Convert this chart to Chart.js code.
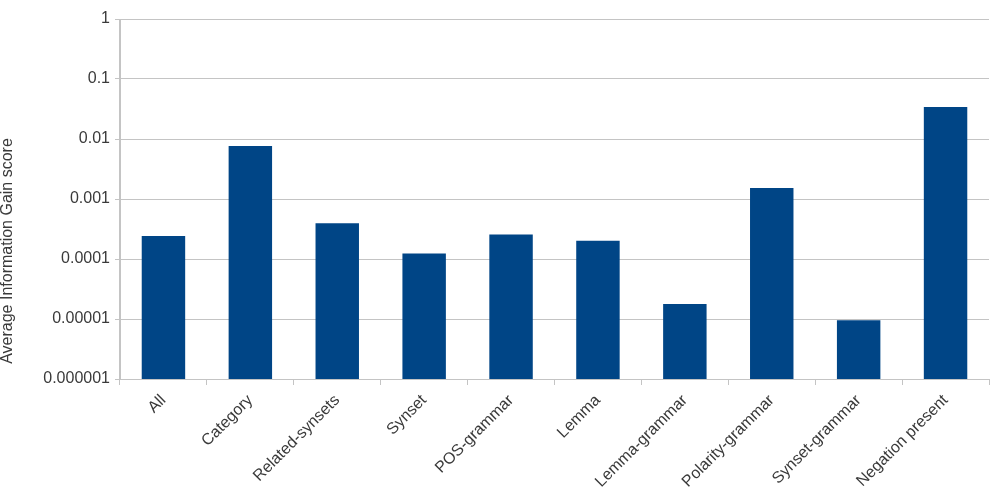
<!DOCTYPE html>
<html>
<head>
<meta charset="utf-8">
<script src="https://cdn.jsdelivr.net/npm/chart.js@4"></script>
<style>
  body { margin: 0; background: #fff; }
  #wrap { width: 1002px; height: 494px; }
</style>
</head>
<body>
<div id="wrap"><canvas id="myChart" width="1002" height="494"></canvas></div>
<script>
// dati
var categories = ["All", "Category", "Related-synsets", "Synset", "POS-grammar",
  "Lemma", "Lemma-grammar", "Polarity-grammar", "Synset-grammar", "Negation present"];
var gainScores = [0.000241, 0.00762, 0.000393, 0.000124, 0.000255,
  0.000202, 0.0000178, 0.00152, 0.0000095, 0.0341];
var yTicks = [1, 0.1, 0.01, 0.001, 0.0001, 0.00001, 0.000001];
var yTickLabels = ["1", "0.1", "0.01", "0.001", "0.0001", "0.00001", "0.000001"];
var yTitle = "Average Information Gain score";

var FONT = "'Liberation Sans', Arial, sans-serif";
var GRID = "#c4c4c4";
var TEXT = "#3a3a3a";

// titolo asse Y disegnato a mano (centrato come nell'originale)
var yTitlePlugin = {
  id: "yTitle",
  afterDraw: function(chart) {
    var ctx = chart.ctx;
    ctx.save();
    ctx.translate(8, 251);
    ctx.rotate(-Math.PI / 2);
    ctx.font = "16px " + FONT;
    ctx.fillStyle = TEXT;
    ctx.textAlign = "center";
    ctx.textBaseline = "middle";
    ctx.fillText(yTitle, 0, 0);
    ctx.restore();
  }
};

var ctx = document.getElementById("myChart").getContext("2d");
var myChart = new Chart(ctx, {
  type: "bar",
  data: {
    labels: categories,
    datasets: [{
      label: yTitle,
      data: gainScores,
      backgroundColor: "#004586",
      borderWidth: 0,
      barPercentage: 0.5,
      categoryPercentage: 1.0
    }]
  },
  options: {
    responsive: false,
    animation: false,
    layout: { padding: { top: 19, right: 13, left: 0, bottom: 0 } },
    plugins: {
      legend: { display: false },
      tooltip: { enabled: false }
    },
    scales: {
      x: {
        grid: {
          offset: true,
          drawOnChartArea: true,
          color: function(c) {
            // solo i bordi sinistro e destro
            return (c.index === 0 || c.index === categories.length) ? GRID : "rgba(0,0,0,0)";
          },
          tickColor: GRID,
          tickLength: 6
        },
        border: { color: GRID },
        ticks: {
          color: TEXT,
          font: { family: FONT, size: 16 },
          minRotation: 45,
          maxRotation: 45,
          autoSkip: false,
          padding: 6
        },
        afterFit: function(scale) { scale.height = 115; }
      },
      y: {
        type: "logarithmic",
        min: 0.000001,
        max: 1,
        grid: { color: GRID, tickLength: 5 },
        border: { color: GRID },
        ticks: {
          color: TEXT,
          font: { family: FONT, size: 16 },
          padding: 5,
          callback: function(value) {
            var i = yTicks.indexOf(value);
            return i >= 0 ? yTickLabels[i] : "";
          }
        },
        afterBuildTicks: function(scale) {
          scale.ticks = yTicks.slice().reverse().map(function(v) { return { value: v, major: true }; });
        },
        afterFit: function(scale) { scale.width = 120; }
      }
    }
  },
  plugins: [yTitlePlugin]
});
</script>
</body>
</html>
